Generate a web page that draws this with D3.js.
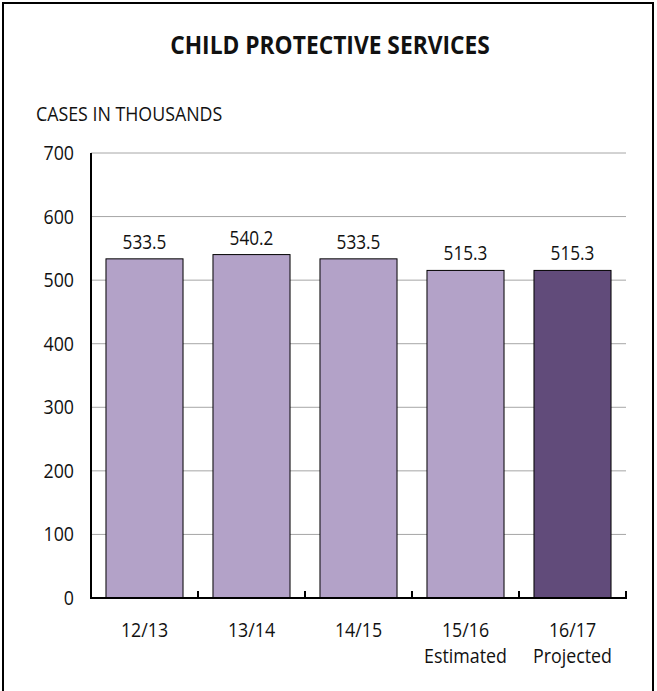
<!DOCTYPE html>
<html><head><meta charset="utf-8">
<script src="https://cdn.jsdelivr.net/npm/d3@7"></script>
<style>body{margin:0;background:#fff}</style>
</head><body>
<svg id="c" width="657" height="691"></svg>
<script>
const categories = ["12/13","13/14","14/15","15/16","16/17"];
const subLabels = ["","","","Estimated","Projected"];
const values = [533.5,540.2,533.5,515.3,515.3];
const yTicks = [0,100,200,300,400,500,600,700];
const title = "CHILD PROTECTIVE SERVICES";
const yTitle = "CASES IN THOUSANDS";

const FONT = "'Open Sans',sans-serif";
const SX = 0.89;
const svg = d3.select("#c");
svg.append("rect").attr("x",3).attr("y",3).attr("width",650).attr("height",720)
  .attr("fill","none").attr("stroke","#000").attr("stroke-width",2);

function txt(g, x0, y0, s, anchor, size, weight, sx){
  return g.append("text").attr("transform",`translate(${x0},${y0}) scale(${sx},1)`)
    .attr("text-anchor",anchor||"start").attr("font-family",FONT)
    .attr("font-size",size).attr("font-weight",weight||"normal").attr("fill","#111").text(s);
}

const m = {left:91, right:626, top:153, bottom:598};
const x = d3.scaleBand().domain(categories).range([m.left,m.right]).paddingInner(0.28).paddingOuter(0.14);
const y = d3.scaleLinear().domain([0,700]).range([m.bottom,m.top]);

txt(svg,330,54,title,"middle",24.5,"bold",0.93);
txt(svg,36,121,yTitle,"start",20,"normal",SX);

// gridlines
svg.append("g").selectAll("line").data(yTicks.filter(d=>d>0)).join("line")
  .attr("x1",m.left).attr("x2",m.right).attr("y1",d=>y(d)).attr("y2",d=>y(d))
  .attr("stroke","#a6a6a6").attr("stroke-width",1);

// y labels
const gy = svg.append("g");
yTicks.forEach(d=>txt(gy,74,y(d)+7,String(d),"end",20,"normal",SX));

// bars
svg.append("g").selectAll("rect").data(values).join("rect")
  .attr("x",(d,i)=>x(categories[i])).attr("width",x.bandwidth())
  .attr("y",d=>y(d)).attr("height",d=>y(0)-y(d))
  .attr("fill",(d,i)=>i===4?"#614b7a":"#b3a2c8").attr("stroke","#000").attr("stroke-width",1);

// value labels
const gv = svg.append("g");
values.forEach((d,i)=>txt(gv,x(categories[i])+x.bandwidth()/2,y(d)-10,d.toFixed(1),"middle",20,"normal",0.86));

// axes
svg.append("line").attr("x1",m.left).attr("x2",m.left).attr("y1",m.top).attr("y2",m.bottom+1)
  .attr("stroke","#000").attr("stroke-width",2);
svg.append("line").attr("x1",m.left-1).attr("x2",m.right+1).attr("y1",m.bottom).attr("y2",m.bottom)
  .attr("stroke","#000").attr("stroke-width",2);
const ticksX = d3.range(1,categories.length+1).map(i=>m.left+(m.right-m.left)/categories.length*i);
svg.append("g").selectAll("line").data(ticksX).join("line")
  .attr("x1",d=>d).attr("x2",d=>d).attr("y1",m.bottom).attr("y2",m.bottom-7)
  .attr("stroke","#000").attr("stroke-width",2);

// x labels
const gx = svg.append("g");
categories.forEach((c,i)=>{
  const cx = x(c)+x.bandwidth()/2;
  txt(gx,cx,637,c,"middle",20,"normal",SX);
  if(subLabels[i]) txt(gx,cx,663,subLabels[i],"middle",20,"normal",SX);
});
</script>
</body></html>
